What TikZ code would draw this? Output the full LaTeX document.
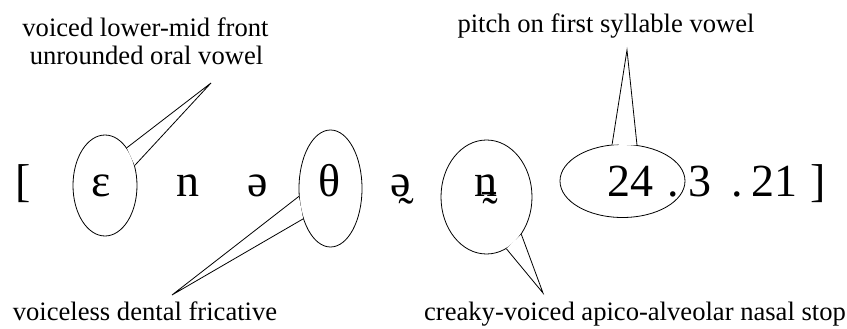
\documentclass[tikz,border=0pt]{standalone}
\usepackage{fontspec}
\setmainfont{Liberation Serif}
\usetikzlibrary{shapes.geometric}
\begin{document}
\begin{tikzpicture}[x=1pt,y=-1pt,
  lbl/.style={font=\fontsize{26.6}{30}\selectfont, anchor=base, inner sep=0},
  big/.style={font=\fontsize{46}{50}\selectfont, anchor=base, inner sep=0},
  diac/.style={font=\fontsize{46}{50}\selectfont, anchor=base west, inner sep=0},
  bub/.style={ellipse, draw, inner sep=0, line width=0.8pt},
  tail/.style={line width=0.8pt, line join=miter}]
\useasboundingbox (0,0) rectangle (847,329);
% bubbles
\node[bub, minimum width=64pt, minimum height=101pt] (beps) at (105,185.5) {};
\node[bub, minimum width=63pt, minimum height=117pt] (bth) at (330.5,188.5) {};
\node[bub, minimum width=91pt, minimum height=114pt] (bn) at (486.5,197) {};
\node[bub, minimum width=125pt, minimum height=73pt] (bp) at (622.5,181) {};
% tail tips
\coordinate (teps) at (211,83);
\coordinate (tth) at (172,295);
\coordinate (tn) at (543,293);
\coordinate (tp) at (627,50);
% tails
\fill[white] (beps.60) -- (teps) -- (beps.34) -- cycle;
\draw[tail] (beps.60) -- (teps) -- (beps.34);
\fill[white] (bth.194.7) -- (tth) -- (bth.228) -- cycle;
\draw[tail] (bth.194.7) -- (tth) -- (bth.228);
\fill[white] (bn.291.5) -- (tn) -- (bn.313) -- cycle;
\draw[tail] (bn.291.5) -- (tn) -- (bn.313);
\fill[white] (bp.106) -- (tp) -- (bp.68) -- cycle;
\draw[tail] (bp.106) -- (tp) -- (bp.68);
% transcription
\node[big] (lb) at (23,196) {[};
\node[big] (eps) at (101,196) {ɛ};
\node[big] (n1) at (188,196) {n};
\node[big] (sch) at (258,196) {ə};
\node[big] (th) at (330,196) {θ};
\node[big] (sch2) at (401,196) {ə};
\node[diac] (til1) at (406,195) {\char"0330};
\node[big] (n2) at (486,196) {n};
\node[diac] (bar2) at (489,189) {\char"0331};
\node[diac] (til2) at (490,195) {\char"0330};
\node[big] (d24) at (630,196) {24};
\node[big] (dot1) at (673,196) {.};
\node[big] (d3) at (700,196) {3};
\node[big] (dot2) at (737,196) {.};
\node[big] (d21) at (774,196) {21};
\node[big] (rb) at (818,196) {]};
% labels
\node[lbl] (l1a) at (145.5,37) {voiced lower-mid front};
\node[lbl] (l1b) at (146.5,65) {unrounded oral vowel};
\node[lbl] (l2) at (606,33) {pitch on first syllable vowel};
\node[lbl] (l3) at (145,320) {voiceless dental fricative};
\node[lbl] (l4) at (635,320) {creaky-voiced apico-alveolar nasal stop};
\end{tikzpicture}
\end{document}
